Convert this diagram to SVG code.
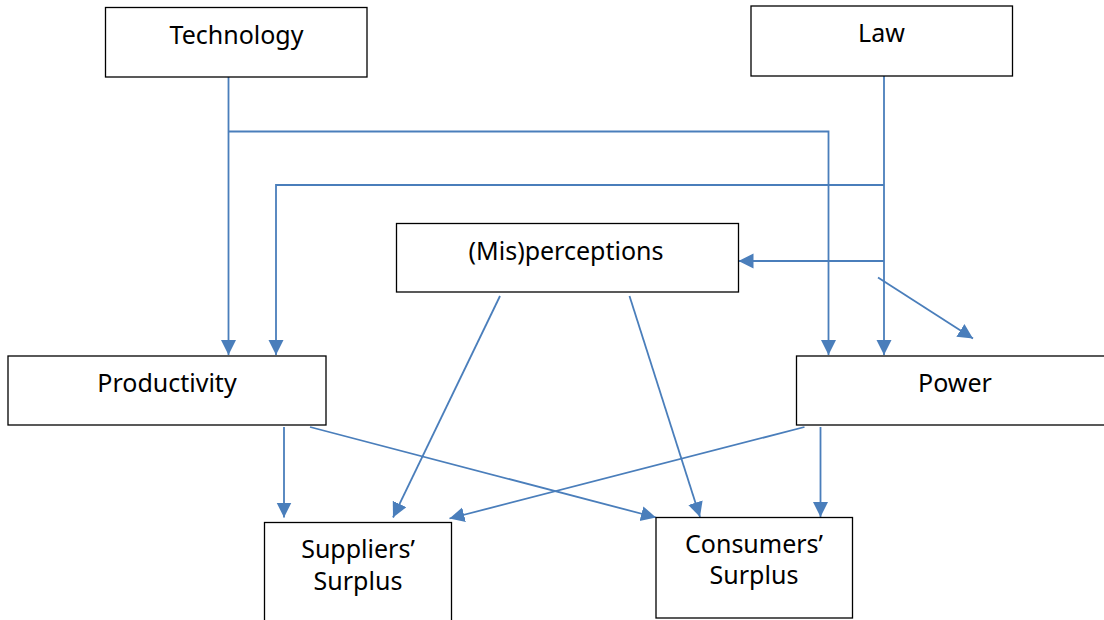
<svg xmlns="http://www.w3.org/2000/svg" width="1104" height="620" viewBox="0 0 1104 620">
  <style>
    .box { fill: #ffffff; stroke: #000000; stroke-width: 1.3; }
    .lbl { font-family: "Noto Sans", "Open Sans", sans-serif; font-size: 25px; fill: #000000; text-anchor: middle; }
    .link { fill: none; stroke: #4A7EBB; stroke-width: 1.8; }
    .arr { marker-end: url(#head); }
  </style>
  <defs>
    <marker id="head" markerUnits="userSpaceOnUse" markerWidth="16" markerHeight="16" refX="15" refY="7.5" orient="auto">
      <path d="M0,0 L15,7.5 L0,15 z" fill="#4A7EBB"/>
    </marker>
  </defs>

  <rect width="1104" height="620" fill="#ffffff"/>

  <g id="connectors">
    <!-- Technology -->
    <path class="link arr" d="M228.5,77 V355"/>
    <path class="link arr" d="M228.5,131.5 H828.5 V355"/>
    <!-- Law -->
    <path class="link arr" d="M884,76 V355"/>
    <path class="link arr" d="M884,185 H276 V355"/>
    <path class="link arr" d="M884,261 H738.5"/>
    <path class="link arr" d="M878,277.5 L973,338.5"/>
    <!-- (Mis)perceptions -->
    <path class="link arr" d="M500,296 L393,517.5"/>
    <path class="link arr" d="M629.5,296 L700,517"/>
    <!-- Productivity -->
    <path class="link arr" d="M284,427 V517.5"/>
    <path class="link arr" d="M310,427 L656,517.5"/>
    <!-- Power -->
    <path class="link arr" d="M804.5,427 L449.5,518.5"/>
    <path class="link arr" d="M820.5,427 V517"/>
  </g>

  <g id="technology">
    <rect class="box" x="105.5" y="7.5" width="261.5" height="69.5"/>
    <text class="lbl" x="236.5" y="44">Technology</text>
  </g>

  <g id="law">
    <rect class="box" x="751" y="6" width="261.5" height="70"/>
    <text class="lbl" x="881.5" y="42">Law</text>
  </g>

  <g id="misperceptions">
    <rect class="box" x="396.5" y="223.5" width="342" height="68.5"/>
    <text class="lbl" x="566" y="260">(Mis)perceptions</text>
  </g>

  <g id="productivity">
    <rect class="box" x="8" y="356" width="318" height="69"/>
    <text class="lbl" x="167" y="392">Productivity</text>
  </g>

  <g id="power">
    <rect class="box" x="796.5" y="356" width="320" height="69"/>
    <text class="lbl" x="955" y="392">Power</text>
  </g>

  <g id="suppliers-surplus">
    <rect class="box" x="264.5" y="522.5" width="187" height="120"/>
    <text class="lbl" x="358" y="558">Suppliers’</text>
    <text class="lbl" x="358" y="590">Surplus</text>
  </g>

  <g id="consumers-surplus">
    <rect class="box" x="656" y="517.5" width="196.5" height="100.5"/>
    <text class="lbl" x="754" y="553">Consumers’</text>
    <text class="lbl" x="754" y="584">Surplus</text>
  </g>
</svg>
